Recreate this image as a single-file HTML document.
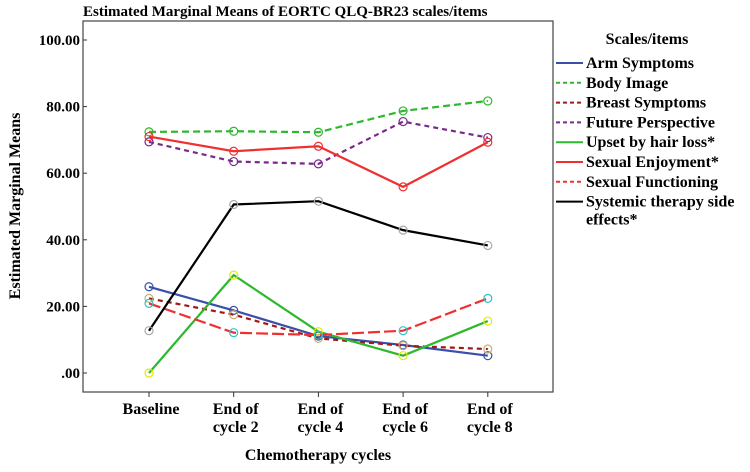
<!DOCTYPE html>
<html><head><meta charset="utf-8"><style>
body{margin:0;background:#fff}
svg text{font-family:"Liberation Serif",serif;font-weight:bold;fill:#000}
</style></head><body>
<svg id="chart" width="750" height="467" viewBox="0 0 750 467">
<text x="83" y="16" font-size="15">Estimated Marginal Means of EORTC QLQ-BR23 scales/items</text>
<rect x="83" y="21" width="470" height="371" fill="none" stroke="#444" stroke-width="1.2"/>
<g id="yaxis"></g>
<g id="xaxis"></g>
<g id="series"></g>
<text transform="translate(20,206) rotate(-90)" text-anchor="middle" font-size="16">Estimated Marginal Means</text>
<text x="318" y="460" text-anchor="middle" font-size="16">Chemotherapy cycles</text>
<g id="legend">
<text x="647" y="44" text-anchor="middle" font-size="16">Scales/items</text>
</g>
</svg>
<script>
const categories=["Baseline","End of|cycle 2","End of|cycle 4","End of|cycle 6","End of|cycle 8"];
const yTicks=[0,20,40,60,80,100];
const yTickLabels=[".00","20.00","40.00","60.00","80.00","100.00"];
const seriesNames=["Arm Symptoms","Body Image","Breast Symptoms","Future Perspective","Upset by hair loss*","Sexual Enjoyment*","Sexual Functioning","Systemic therapy side|effects*"];
const armSymptoms=[25.9,18.8,11.1,8.4,5.2];
const bodyImage=[72.4,72.6,72.3,78.7,81.7];
const breastSymptoms=[22.4,17.5,10.4,8.2,7.2];
const futurePerspective=[69.4,63.5,62.8,75.5,70.7];
const upsetHairLoss=[0,29.4,12.4,5.2,15.6];
const sexualEnjoyment=[71,66.6,68.1,55.9,69.3];
const sexualFunctioning=[20.9,12.1,11.4,12.7,22.4];
const systemicTherapy=[12.7,50.6,51.6,42.9,38.3];
const seriesValues=[armSymptoms,bodyImage,breastSymptoms,futurePerspective,upsetHairLoss,sexualEnjoyment,sexualFunctioning,systemicTherapy];
const styles=[
 {c:"#3a4fa8",d:"",m:"#3a4fa8"},
 {c:"#2eb82e",d:"7,4",m:"#2eb82e"},
 {c:"#a01818",d:"5,4",m:"#c8b070"},
 {c:"#7a2a8a",d:"5,4",m:"#7a2a8a"},
 {c:"#2eb82e",d:"",m:"#e8e800"},
 {c:"#f03030",d:"",m:"#f03030"},
 {c:"#f03030",d:"12,4",m:"#30c0c8"},
 {c:"#000",d:"",m:"#aaa"}];
const NS="http://www.w3.org/2000/svg";
function mk(t,a,p){const e=document.createElementNS(NS,t);for(const k in a)e.setAttribute(k,a[k]);p.appendChild(e);return e;}
function yS(v){return 373-v*3.33;}
function xS(i){return 149+i*84.7;}
const ya=document.getElementById('yaxis'),xa=document.getElementById('xaxis'),sg=document.getElementById('series'),lg=document.getElementById('legend');
yTicks.forEach((t,i)=>{
 const l=mk('line',{x1:83,x2:87,y1:yS(t),y2:yS(t),stroke:'#333'},ya);
 
 
 const tx=mk('text',{x:80,y:yS(t)+5,'text-anchor':'end','font-size':15},ya);
 
 
 tx.textContent=yTickLabels[i];
});
categories.forEach((c,i)=>{
 const l=mk('line',{x1:xS(i),x2:xS(i),y1:392,y2:397,stroke:'#333'},xa);
 
 
 c.split('|').forEach((s,j)=>{
  const tx=mk('text',{x:xS(i)+2,y:414+j*18,'text-anchor':'middle','font-size':16},xa);
  
  
  tx.textContent=s;
 });
});
seriesValues.forEach((vals,k)=>{
 const st=styles[k];
 const pts=vals.map((v,i)=>xS(i)+','+yS(v)).join(' ');
 const pl=mk('polyline',{points:pts,fill:'none',stroke:st.c,'stroke-width':2.2,'stroke-dasharray':st.d},sg);
 
 
 vals.forEach((v,i)=>{
  const c=mk('circle',{cx:xS(i),cy:yS(v),r:4,fill:'none',stroke:st.m,'stroke-width':1.2},sg);
  
  
 });
 const ly=63+k*19.8;
 const ll=mk('line',{x1:556,x2:583,y1:ly,y2:ly,stroke:st.c,'stroke-width':2,'stroke-dasharray':st.d?'4,3':''},lg);
 
 
 seriesNames[k].split('|').forEach((s,j)=>{
  const t=mk('text',{x:586,y:ly+5+(j?18:0),'font-size':16},lg);
  
  
  t.textContent=s;
 });
});
</script>
</body></html>
